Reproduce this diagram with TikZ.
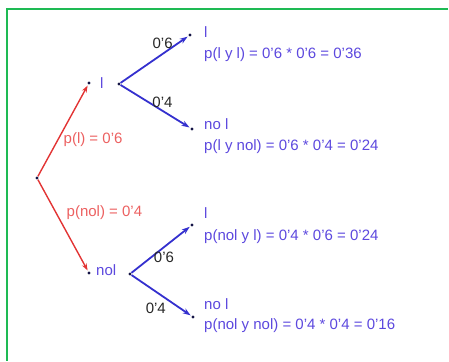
\documentclass[tikz,border=0pt]{standalone}
\usepackage{fontspec}
\setmainfont{Liberation Sans}
\usetikzlibrary{arrows.meta}
\definecolor{treeblue}{RGB}{52,48,206}
\definecolor{textblue}{RGB}{92,72,222}
\definecolor{treered}{RGB}{226,52,52}
\definecolor{textred}{RGB}{236,96,96}
\definecolor{framegreen}{RGB}{30,186,84}
\definecolor{dotnavy}{RGB}{20,20,70}
\tikzset{
  dot/.style={circle,fill=dotnavy,inner sep=0pt,minimum size=3.4pt},
  lbl/.style={text=textblue,anchor=west,inner sep=0pt},
  prob/.style={text=black!85,inner sep=2pt},
  redprob/.style={text=textred,inner sep=2pt,anchor=west},
}
\begin{document}
\begin{tikzpicture}[x=1pt,y=-1pt,every node/.style={font=\fontsize{15}{17}\selectfont}]
				\useasboundingbox (0,0) rectangle (449,361);
				\draw[framegreen,line width=2pt] (448,9)--(7,9)--(7,361);
				% puntos
				\node[dot] (r) at (37,178){};
				\node[dot] (l) at (89,83){};
				\node[dot] (a) at (119,84){};
				\node[dot] (ll) at (190,35){};
				\node[dot] (lnl) at (192,129){};
				\node[dot] (nl) at (89,273){};
				\node[dot] (b) at (130,274){};
				\node[dot] (nll) at (192,225){};
				\node[dot] (nlnl) at (193,317){};
				% textos
				\node[lbl] at (100,83){l};
				\node[lbl] at (96,270){nol};
				\node[lbl] at (204,32){l};
				\node[lbl] at (204,55){p(l y l) = 0'6 * 0'6 = 0'36};
				\node[lbl] at (204,124){no l};
				\node[lbl] at (204,147){p(l y nol) = 0'6 * 0'4 = 0'24};
				\node[lbl] at (204,213){l};
				\node[lbl] at (204,237){p(nol y l) = 0'4 * 0'6 = 0'24};
				\node[lbl] at (204,304){no l};
				\node[lbl] at (204,326){p(nol y nol) = 0'4 * 0'4 = 0'16};
				\begin{scope}[line width=1.4pt,-{Stealth[length=7pt,width=5pt]},shorten >=1pt]
				\draw[treered] (r)--node[redprob,pos=0.4,right=3pt]{p(l) = 0'6}(l);
				\draw[treered] (r)--node[redprob,pos=0.36,right=8pt]{p(nol) = 0'4}(nl);
				\end{scope}
				\begin{scope}[line width=1.8pt,treeblue,-{Stealth[length=8pt,width=5.5pt]},shorten >=1pt]
				\draw (a)--node[prob,pos=0.62,above=2pt]{0'6}(ll);
				\draw (a)--node[prob,pos=0.6,above]{0'4}(lnl);
				\draw (b)--node[prob,pos=0.55,below=2pt]{0'6}(nll);
				\draw (b)--node[prob,pos=0.62,below left=0pt]{0'4}(nlnl);
				\end{scope}
			\end{tikzpicture}
\end{document}
